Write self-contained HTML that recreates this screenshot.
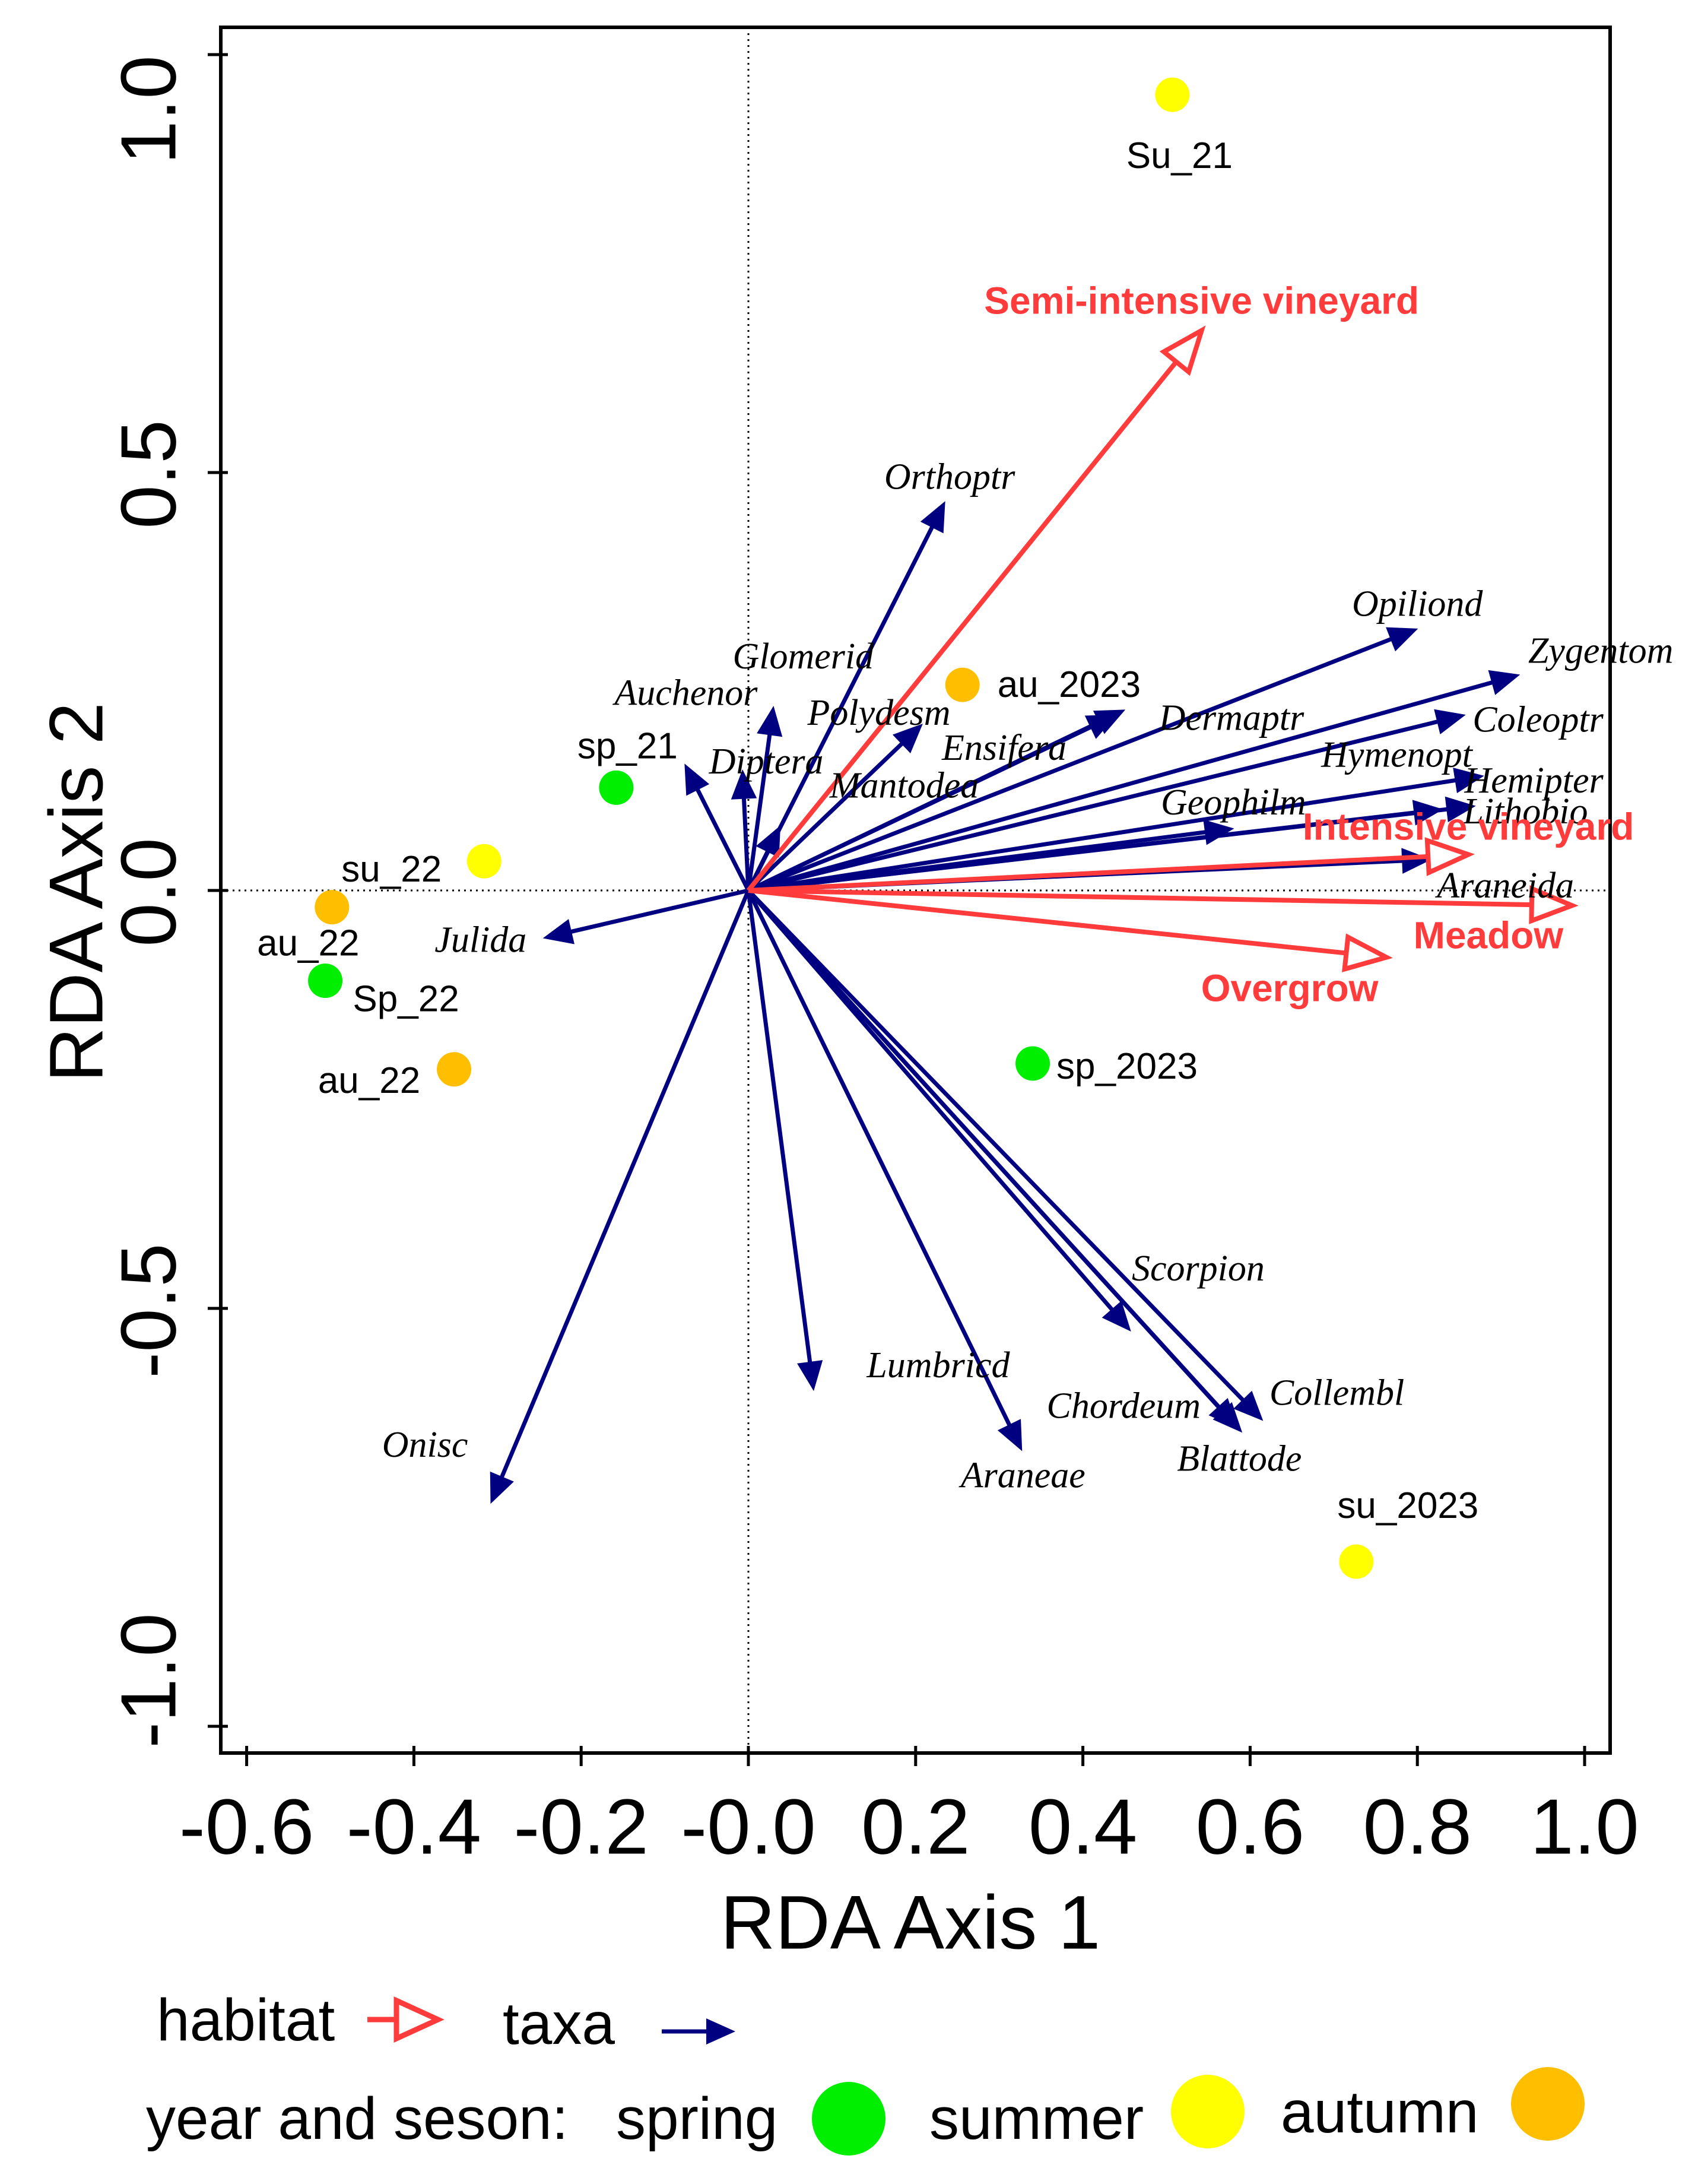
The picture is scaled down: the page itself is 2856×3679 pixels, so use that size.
<!DOCTYPE html>
<html><head><meta charset="utf-8"><style>
html,body{margin:0;padding:0;background:#fff;}
svg{display:block;}
.tl{font-family:"Liberation Serif",serif;font-style:italic;font-size:62px;fill:#000;}
.hl{font-family:"Liberation Sans",sans-serif;font-weight:bold;font-size:64px;fill:#ff3b3b;}
.pl{font-family:"Liberation Sans",sans-serif;font-size:62px;fill:#000;}
.tk{font-family:"Liberation Sans",sans-serif;font-size:132px;fill:#000;}
.at{font-family:"Liberation Sans",sans-serif;font-size:128px;fill:#000;}
.lg{font-family:"Liberation Sans",sans-serif;font-size:100px;fill:#000;}
</style></head><body>
<svg id="chart" width="2856" height="3679" viewBox="0 0 2856 3679" xmlns="http://www.w3.org/2000/svg">
<rect x="0" y="0" width="2856" height="3679" fill="#fff"/>
<g id="frame"></g>
<g id="marks"></g>
<g id="legend">
  <text class="lg" x="264" y="3437">habitat</text>
  <line x1="619" y1="3402" x2="690" y2="3402" stroke="#ff3b3b" stroke-width="9"/>
  <polygon points="668,3370 738,3402 668,3434" fill="#fff" stroke="#ff3b3b" stroke-width="9"/>
  <text class="lg" x="847" y="3443">taxa</text>
  <line x1="1115" y1="3422" x2="1200" y2="3422" stroke="#000080" stroke-width="7"/>
  <polygon points="1190,3400 1239,3422 1190,3444" fill="#000080"/>
  <text class="lg" x="246" y="3603">year and seson:</text>
  <text class="lg" x="1038" y="3603">spring</text>
  <circle cx="1430" cy="3569" r="62" fill="#00ee00"/>
  <text class="lg" x="1566" y="3603">summer</text>
  <circle cx="2035" cy="3557" r="62" fill="#ffff00"/>
  <text class="lg" x="2158" y="3592">autumn</text>
  <circle cx="2608" cy="3544" r="62" fill="#ffbf00"/>
</g>
</svg>
<script>
// ---- data ----
const xTicks = [-0.6,-0.4,-0.2,0.0,0.2,0.4,0.6,0.8,1.0];
const xTickLabels = ["-0.6","-0.4","-0.2","-0.0","0.2","0.4","0.6","0.8","1.0"];
const yTicks = [1.0,0.5,0.0,-0.5,-1.0];
const yTickLabels = ["1.0","0.5","0.0","-0.5","-1.0"];

const taxaNames = ["Orthoptr","Glomerid","Auchenor","Diptera","Polydesm","Mantodea","Ensifera","Dermaptr","Opiliond","Zygentom","Coleoptr","Hymenopt","Hemipter","Lithobio","Geophilm","Araneida","Julida","Onisc","Lumbricd","Araneae","Scorpion","Chordeum","Blattode","Collembl"];
const taxaX = [0.235,0.030,-0.076,-0.007,0.208,0.038,0.450,0.440,0.800,0.922,0.857,0.830,0.879,0.869,0.580,0.816,-0.245,-0.308,0.078,0.327,0.457,0.585,0.590,0.615];
const taxaY = [0.465,0.220,0.151,0.144,0.199,0.077,0.216,0.210,0.313,0.258,0.210,0.097,0.137,0.101,0.074,0.037,-0.057,-0.733,-0.598,-0.670,-0.527,-0.643,-0.648,-0.634];

const habNames = ["Semi-intensive vineyard","Intensive vineyard","Meadow","Overgrow"];
const habX = [0.542,0.861,0.985,0.763];
const habY = [0.670,0.043,-0.018,-0.080];

const siteNames = ["Su_21","au_2023","sp_21","su_22","au_22","Sp_22","au_22","sp_2023","su_2023"];
const siteSeason = ["summer","autumn","spring","summer","autumn","spring","autumn","spring","summer"];
const siteX = [0.507,0.256,-0.158,-0.316,-0.498,-0.506,-0.352,0.340,0.727];
const siteY = [0.952,0.246,0.123,0.035,-0.020,-0.108,-0.214,-0.207,-0.803];

// ---- layout (pixels) ----
const taxaLabelOff = [[8,-42],[50,-84],[2,-120],[40,-14],[-73,-19],[209,-68],[-203,64],[194,5],[0,-42],[137,-40],[123,8],[-77,-92],[85,8],[85,9],[0,-44],[126,44],[-106,3],[-111,-98],[210,-42],[2,42],[114,-105],[-192,-37],[-4,45],[125,-46]];
const habLabelOff = [[0,-50],[0,-47],[-141,50],[-163,52]];
const siteLabelOff = [[12,103,"middle"],[59,0,"start"],[19,-70,"middle"],[-156,14,"middle"],[-40,61,"middle"],[136,31,"middle"],[-143,19,"middle"],[40,5,"start"],[87,-94,"middle"]];
const seasonColor = {spring:"#00ee00",summer:"#ffff00",autumn:"#ffbf00"};
const yTickLabelY = [185,799,1503,2208,2831];

const L=372,T=46,R=2713,B=2953;
function xs(v){return 1261+1409*v;}
function ys(v){return 1500-1408*v;}
const NS="http://www.w3.org/2000/svg";
function mk(tag,attrs,parent){const e=document.createElementNS(NS,tag);for(const k in attrs)e.setAttribute(k,attrs[k]);parent.appendChild(e);return e;}
const frame=document.getElementById('frame');
const marks=document.getElementById('marks');

let zl=mk('line',{x1:xs(0),y1:T,x2:xs(0),y2:B,stroke:'#000','stroke-width':3,'stroke-dasharray':'3,7'},frame);


zl=mk('line',{x1:L,y1:ys(0),x2:R,y2:ys(0),stroke:'#000','stroke-width':3,'stroke-dasharray':'3,7'},frame);


let box=mk('rect',{x:L,y:T,width:R-L,height:B-T,fill:'none',stroke:'#000','stroke-width':6},frame);


xTicks.forEach((v,i)=>{
  const t=mk('line',{x1:xs(v),y1:B-12,x2:xs(v),y2:B+22,stroke:'#000','stroke-width':5},frame);
  
  
  const tx=mk('text',{x:xs(v),y:3077,'text-anchor':'middle','dominant-baseline':'central',class:'tk'},frame);
  tx.textContent=xTickLabels[i];
  
  
});
yTicks.forEach((v,i)=>{
  const t=mk('line',{x1:L-22,y1:ys(v),x2:L+12,y2:ys(v),stroke:'#000','stroke-width':5},frame);
  
  
  const yy=yTickLabelY[i];
  const tx=mk('text',{x:250,y:yy,'text-anchor':'middle','dominant-baseline':'central',class:'tk',transform:'rotate(-90 250 '+yy+')'},frame);
  tx.textContent=yTickLabels[i];
  
  
});
let at=mk('text',{x:1534,y:3239,'text-anchor':'middle','dominant-baseline':'central',class:'at'},frame);
at.textContent='RDA Axis 1';


at=mk('text',{x:129,y:1503,'text-anchor':'middle','dominant-baseline':'central',class:'at',transform:'rotate(-90 129 1503)'},frame);
at.textContent='RDA Axis 2';



function arrow(x2,y2,color,sw,len,hw,open,name){
  const x1=xs(0),y1=ys(0);
  const dx=x2-x1,dy=y2-y1,d=Math.hypot(dx,dy),ux=dx/d,uy=dy/d;
  const bx=x2-ux*len,by=y2-uy*len;
  const g=mk('g',{},marks);
  
  
  mk('line',{x1:x1,y1:y1,x2:open?bx:x2-ux*len*0.5,y2:open?by:y2-uy*len*0.5,stroke:color,'stroke-width':sw},g);
  const p=[x2+','+y2,(bx-uy*hw)+','+(by+ux*hw),(bx+uy*hw)+','+(by-ux*hw)].join(' ');
  mk('polygon',{points:p,fill:open?'#fff':color,stroke:color,'stroke-width':open?sw:1,'stroke-linejoin':'miter'},g);
}
taxaNames.forEach((n,i)=>{
  arrow(xs(taxaX[i]),ys(taxaY[i]),'#000080',7,48,21,false,'taxa-arrow-'+n.toLowerCase());
});
habNames.forEach((n,i)=>{
  arrow(xs(habX[i]),ys(habY[i]),'#ff3b3b',8,68,27,true,'habitat-arrow-'+n.toLowerCase().replace(/[^a-z]+/g,'-'));
});
taxaNames.forEach((n,i)=>{
  const t=mk('text',{x:xs(taxaX[i])+taxaLabelOff[i][0],y:ys(taxaY[i])+taxaLabelOff[i][1],'text-anchor':'middle','dominant-baseline':'central',class:'tl'},marks);
  t.textContent=n;
  
  
});
habNames.forEach((n,i)=>{
  const t=mk('text',{x:xs(habX[i])+habLabelOff[i][0],y:ys(habY[i])+habLabelOff[i][1],'text-anchor':'middle','dominant-baseline':'central',class:'hl'},marks);
  t.textContent=n;
  
  
});
siteNames.forEach((n,i)=>{
  const cx=xs(siteX[i]),cy=ys(siteY[i]);
  const c=mk('circle',{cx:cx,cy:cy,r:29,fill:seasonColor[siteSeason[i]]},marks);
  
  
  const o=siteLabelOff[i];
  const t=mk('text',{x:cx+o[0],y:cy+o[1],'text-anchor':o[2],'dominant-baseline':'central',class:'pl'},marks);
  t.textContent=n;
  
  
});
</script>
</body></html>
